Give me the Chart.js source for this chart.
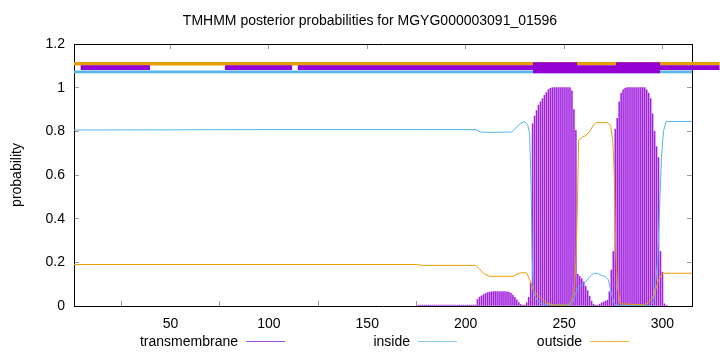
<!DOCTYPE html>
<html>
<head>
<meta charset="utf-8">
<script src="https://cdn.jsdelivr.net/npm/chart.js@4"></script>
<style>
  body { margin: 0; background: #fff; font-family: "Liberation Sans", Arial, sans-serif; }
  #wrap { position: relative; width: 720px; height: 352px; }
  #title { position: absolute; left: 0; width: 740px; top: 11px; text-align: center; font-size: 14px; line-height: 18px; color: #000; }
  .lg-text { position: absolute; top: 332px; font-size: 14px; line-height: 18px; color: #000; text-align: right; width: 160px; }
  .lg-line { position: absolute; top: 341px; height: 1px; width: 39px; }
</style>
</head>
<body>
<div id="wrap">
  <canvas id="c" width="720" height="352"></canvas>
  <div id="title">TMHMM posterior probabilities for MGYG000003091_01596</div>
  <div id="legend"></div>
</div>
<script>
// axes
const xTicks = [50, 100, 150, 200, 250, 300];
const yTicks = [0, 0.2, 0.4, 0.6, 0.8, 1, 1.2];
const yTickLabels = ["0", "0.2", "0.4", "0.6", "0.8", "1", "1.2"];
const seriesNames = ["transmembrane", "inside", "outside"];

// transmembrane posterior, one value per residue starting at tmStart (before that ~0)
const tmStart = 176;
const tmValues = [
  0.004, 0.004, 0.004, 0.004, 0.004, 0.004, 0.004, 0.004, 0.004, 0.004,
  0.004, 0.004, 0.004, 0.004, 0.004, 0.004, 0.004, 0.004, 0.004, 0.004,
  0.004, 0.004, 0.004, 0.004, 0.004, 0.004, 0.004, 0.004, 0.004, 0.004,
  0.03, 0.04, 0.046, 0.052, 0.057, 0.061, 0.063, 0.065, 0.066, 0.066,
  0.066, 0.066, 0.066, 0.066, 0.066, 0.065, 0.064, 0.058, 0.05, 0.04,
  0.028, 0.016, 0.007, 0.003, 0.004, 0.015, 0.04, 0.105, 0.835, 0.87,
  0.895, 0.92, 0.935, 0.95, 0.965, 0.978, 0.99, 0.997,
  1, 1, 1, 1, 1, 1, 1, 1, 1, 1,
  0.985, 0.9, 0.805, 0.145, 0.135, 0.125, 0.11, 0.09, 0.07, 0.045,
  0.022, 0.008, 0.003, 0.002, 0.008, 0.014, 0.018, 0.022, 0.027, 0.065,
  0.165, 0.25, 0.81, 0.86, 0.935, 0.975, 0.99, 0.997,
  1, 1, 1, 1, 1, 1, 1, 1, 1, 1,
  0.99, 0.975, 0.95, 0.88, 0.8, 0.73, 0.68, 0.25, 0.155, 0.01, 0.003,
];

// inside / outside curves (residue position, probability)
const insidePos = [1, 100, 175, 205, 207.5, 212, 223.5, 226, 228, 230, 231.5, 232.5, 233.3, 233.8, 234.5, 236.2, 238.5, 245, 253, 254.5, 256, 257.5, 259, 261, 263, 265, 267, 269, 271, 272.5, 274, 275.5, 277, 294, 295.5, 297.5, 299.5, 300.5, 301.8, 303, 315];
const insideProb = [0.806, 0.808, 0.808, 0.808, 0.797, 0.795, 0.797, 0.82, 0.838, 0.844, 0.83, 0.79, 0.53, 0.22, 0.06, 0.027, 0.01, 0.005, 0.005, 0.02, 0.06, 0.09, 0.095, 0.11, 0.135, 0.15, 0.15, 0.14, 0.135, 0.12, 0.06, 0.01, 0.002, 0.002, 0.02, 0.2, 0.68, 0.8, 0.844, 0.845, 0.845];
const outsidePos = [1, 175, 178, 205, 207, 209, 212, 224, 226, 228, 231, 232.5, 234.5, 236.5, 239, 241, 244, 252, 253.5, 255, 256, 256.7, 257.4, 259.5, 261, 263, 265, 266.5, 272, 273.7, 274.8, 275.5, 276.2, 277, 278.5, 291, 292.5, 294.5, 296, 298, 300, 315];
const outsideProb = [0.19, 0.19, 0.186, 0.186, 0.17, 0.15, 0.136, 0.136, 0.145, 0.152, 0.152, 0.12, 0.07, 0.05, 0.03, 0.015, 0.005, 0.003, 0.02, 0.06, 0.2, 0.43, 0.76, 0.775, 0.78, 0.8, 0.83, 0.84, 0.84, 0.827, 0.75, 0.6, 0.27, 0.1, 0.01, 0.005, 0.015, 0.03, 0.058, 0.12, 0.15, 0.15];

// topology bars above the plot: [from, to] segments and their level
const outsideBand = [[1, 329]];
const insideBand = [[1, 315]];
const tmThinBand = [[4.4, 39.6], [77.7, 111.8], [114.7, 329]];
const tmCoverBand = [[256.6, 276.4], [315, 329]];
const tmBoxBand = [[234.2, 256.6], [276.4, 298.8]];
const outsideLevel = 1.11;
const insideLevel = 1.072;
const tmThinLevel = 1.0916;
const tmCoverLevel = 1.0825;
const tmBoxLevel = 1.091;

const PURPLE = "#9400d3", BLUE = "#56b4e9", ORANGE = "#e69f00";
const FONT = { family: "'Liberation Sans', Arial, sans-serif", size: 14 };

function band(segs, level, color, width, order) {
  const data = [];
  segs.forEach(([a, b]) => { data.push({ x: a, y: level }, { x: b, y: level }, { x: b, y: null }); });
  return { type: "line", data, borderColor: color, borderWidth: width, borderCapStyle: "butt",
    pointRadius: 0, spanGaps: false, clip: false, order, xAxisID: "x", yAxisID: "y" };
}

function curve(xs, ys, color, order) {
  return { type: "line", data: xs.map((x, i) => ({ x, y: ys[i] })), borderColor: color, borderWidth: 1,
    pointRadius: 0, tension: 0, order, xAxisID: "x", yAxisID: "y" };
}

const tickGrid = { drawOnChartArea: false, drawTicks: true, tickLength: -5, color: "#999" };
const border = { display: true, color: "#000", width: 1 };

new Chart(document.getElementById("c"), {
  data: {
    datasets: [
      band(tmBoxBand, tmBoxLevel, PURPLE, 11, 1),
      band(tmCoverBand, tmCoverLevel, PURPLE, 7.3, 2),
      band(tmThinBand, tmThinLevel, PURPLE, 4.7, 3),
      band(outsideBand, outsideLevel, ORANGE, 3.5, 4),
      band(insideBand, insideLevel, BLUE, 2.8, 5),
      curve(outsidePos, outsideProb, ORANGE, 6),
      curve(insidePos, insideProb, BLUE, 7),
      {
        type: "bar", label: seriesNames[0],
        data: tmValues.map((v, i) => ({ x: tmStart + i, y: v })),
        backgroundColor: "#a020e0", barThickness: 0.9, grouped: false, order: 8,
        xAxisID: "x", yAxisID: "y",
      },
    ],
  },
  options: {
    responsive: false,
    animation: false,
    events: [],
    layout: { padding: { top: 44, right: 28, bottom: 0, left: 0 } },
    plugins: { legend: { display: false }, tooltip: { enabled: false } },
    scales: {
      x: {
        type: "linear", position: "bottom", min: 1, max: 315, offset: false,
        afterBuildTicks: (s) => { s.ticks = xTicks.map((v) => ({ value: v })); },
        afterFit: (s) => { s.height = 46; },
        ticks: { font: FONT, color: "#000", padding: 15, maxRotation: 0 },
        grid: tickGrid, border,
      },
      x2: {
        type: "linear", position: "top", min: 1, max: 315, offset: false,
        afterBuildTicks: (s) => { s.ticks = xTicks.map((v) => ({ value: v })); },
        afterFit: (s) => { s.height = 0; },
        ticks: { display: false },
        grid: tickGrid, border,
      },
      y: {
        type: "linear", position: "left", min: 0, max: 1.2,
        afterBuildTicks: (s) => { s.ticks = yTicks.map((v) => ({ value: v })); },
        afterFit: (s) => { s.width = 74; },
        ticks: { font: FONT, color: "#000", padding: 14, callback: (v) => yTickLabels[yTicks.indexOf(v)] },
        title: { display: true, text: "probability", font: FONT, color: "#000", padding: { top: 9, bottom: 0 } },
        grid: tickGrid, border,
      },
      y2: {
        type: "linear", position: "right", min: 0, max: 1.2,
        afterBuildTicks: (s) => { s.ticks = yTicks.map((v) => ({ value: v })); },
        afterFit: (s) => { s.width = 0; },
        ticks: { display: false },
        grid: tickGrid, border,
      },
    },
  },
});

// legend: text right-aligned, then a line sample (gnuplot style)
const legendColors = ["#a84ee0", "#86c8ee", "#eeb23a"];
const legendTextRight = [238, 410, 582];
const lg = document.getElementById("legend");
seriesNames.forEach((name, i) => {
  const t = document.createElement("div");
  t.className = "lg-text";
  t.textContent = name;
  t.style.left = (legendTextRight[i] - 160) + "px";
  lg.appendChild(t);
  const l = document.createElement("div");
  l.className = "lg-line";
  l.style.left = (legendTextRight[i] + 8) + "px";
  l.style.background = legendColors[i];
  lg.appendChild(l);
});
</script>
</body>
</html>
